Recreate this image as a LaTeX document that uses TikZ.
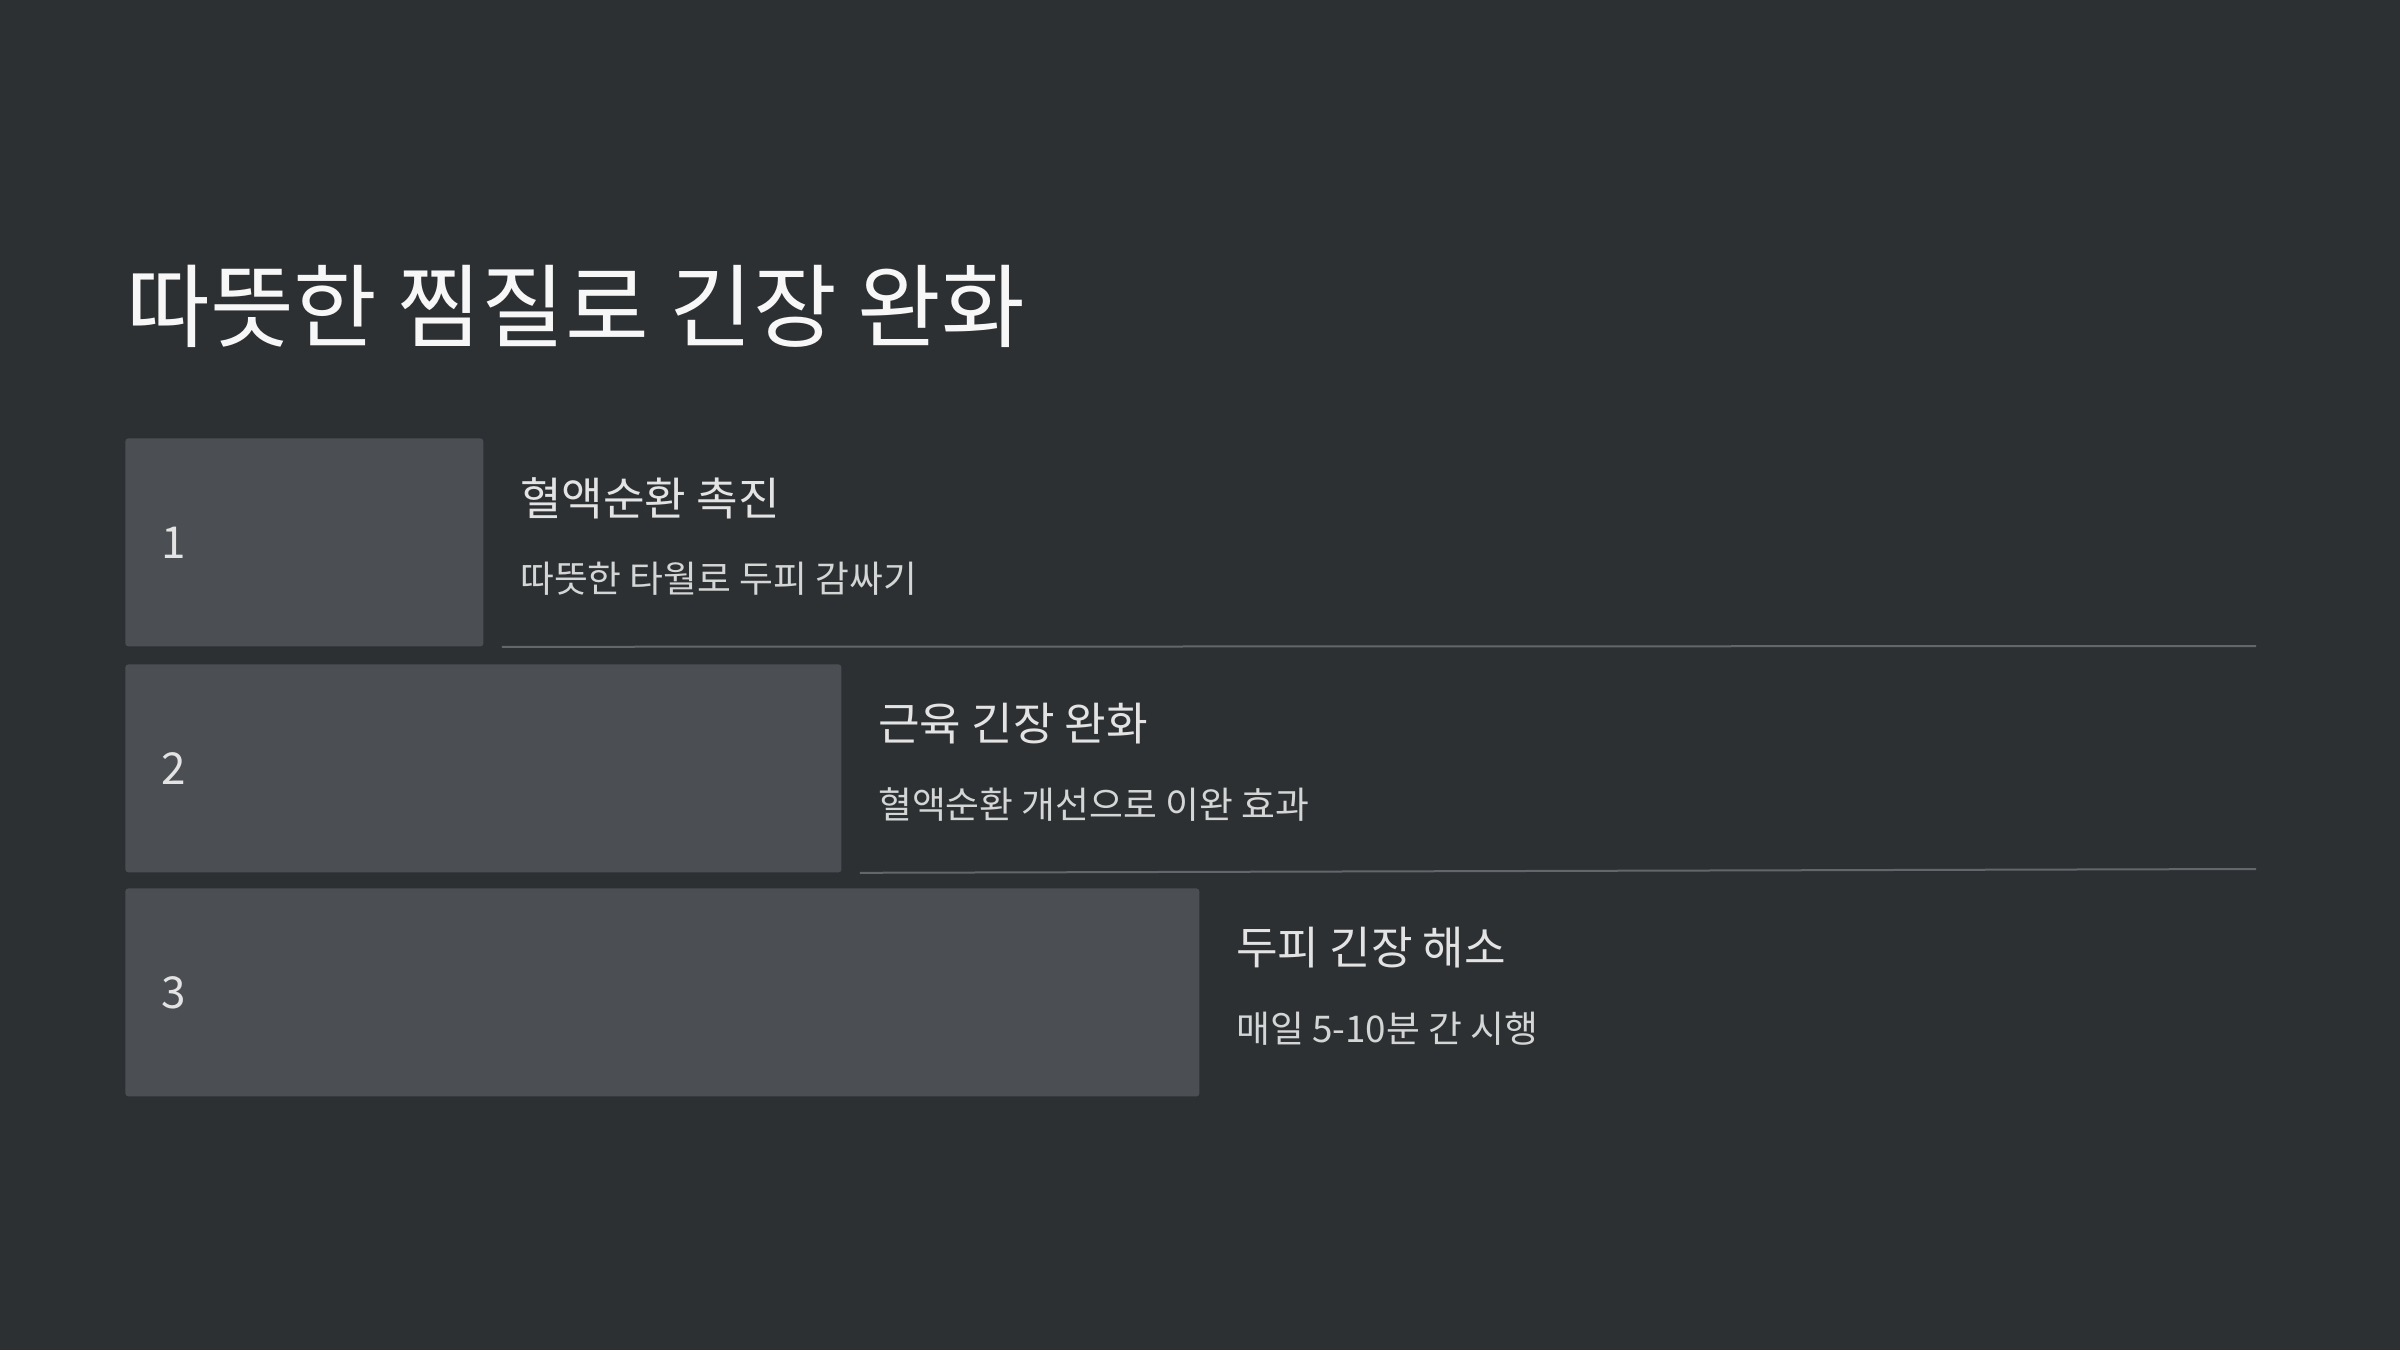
\documentclass[tikz,border=0pt]{standalone}
\usepackage{fontspec}
\setmainfont{Noto Sans CJK KR}
\usepackage{xcolor}
\usepackage{tikz}
\usetikzlibrary{positioning}

\definecolor{bgdark}{HTML}{2D3033}
\definecolor{boxgray}{HTML}{4B4F53}
\definecolor{rulegray}{HTML}{63676B}
\definecolor{titlewhite}{HTML}{F7F7F7}
\definecolor{textlight}{HTML}{E3E3E3}

\begin{document}
\begin{tikzpicture}[
    x=0.5pt, y=-0.5pt,
    bar/.style={rectangle, rounded corners=1.5pt, fill=boxgray, inner sep=0pt, minimum height=104pt, anchor=north west},
    num/.style={font=\fontsize{22}{26}\selectfont, text=textlight, inner sep=0pt, anchor=west},
    head/.style={font=\fontsize{22.6}{27}\selectfont, text=textlight, inner sep=0pt, anchor=west},
    sub/.style={font=\fontsize{18.4}{22}\selectfont, text=textlight!92!bgdark, inner sep=0pt, anchor=west},
    sep/.style={draw=rulegray, line width=1pt}
]

% Background
\fill[bgdark] (0,0) rectangle (2400,1350);

% Title
\node[font=\fontsize{45.5}{54}\selectfont, text=titlewhite, inner sep=0pt, anchor=west] (title) at (126,306) {따뜻한 찜질로 긴장 완화};

% Bars
\node[bar, minimum width=179pt] (box1) at (125,438) {};
\node[bar, minimum width=358pt] (box2) at (125,664) {};
\node[bar, minimum width=537pt] (box3) at (125,888) {};

% Numbers
\node[num, right=18pt of box1.west] (n1) {1};
\node[num, right=18pt of box2.west] (n2) {2};
\node[num, right=18pt of box3.west] (n3) {3};

% Texts
\node[head] (head1) at ([xshift=18pt, yshift=-30pt]box1.north east) {혈액순환 촉진};
\node[sub] (sub1) at ([xshift=18pt, yshift=-70.5pt]box1.north east) {따뜻한 타월로 두피 감싸기};
\node[head] (head2) at ([xshift=18pt, yshift=-30pt]box2.north east) {근육 긴장 완화};
\node[sub] (sub2) at ([xshift=18pt, yshift=-70.5pt]box2.north east) {혈액순환 개선으로 이완 효과};
\node[head] (head3) at ([xshift=18pt, yshift=-30pt]box3.north east) {두피 긴장 해소};
\node[sub] (sub3) at ([xshift=18pt, yshift=-70.5pt]box3.north east) {매일 5-10분 간 시행};

% Rules
\coordinate (end1) at (2256,646);
\coordinate (end2) at (2256,869);
\draw[sep] ([xshift=9pt]box1.south east) -- (end1);
\draw[sep] ([xshift=9pt]box2.south east) -- (end2);

\end{tikzpicture}
\end{document}
